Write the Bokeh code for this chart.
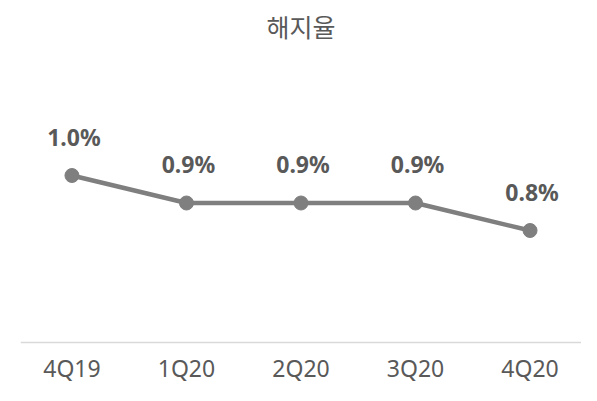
from bokeh.plotting import figure
from bokeh.models import ColumnDataSource, Range1d, FactorRange, Title
from bokeh.core.properties import value
from bokeh.embed import file_html
from bokeh.resources import INLINE

quarters = ["4Q19", "1Q20", "2Q20", "3Q20", "4Q20"]
churn = [1.0, 0.9, 0.9, 0.9, 0.8]
labels = ["1.0%", "0.9%", "0.9%", "0.9%", "0.8%"]
axis_base = 0.393

src = ColumnDataSource(dict(q=quarters, v=churn, lab=labels))

p = figure(width=581, height=385, output_backend="svg", toolbar_location=None,
           x_range=FactorRange(*quarters, range_padding=-0.0507, range_padding_units="absolute"),
           y_range=Range1d(0.2364, 1.4582),
           min_border_left=20, min_border_right=0, min_border_top=49, min_border_bottom=0)
p.title = Title(text="해지율", align="center", vertical_align="top", text_font="Noto Sans CJK KR",
                text_font_size="25px", text_font_style="normal", text_color="#595959",
                text_line_height=0.7, standoff=8)
p.outline_line_color = None
p.xgrid.visible = False
p.ygrid.visible = False
p.yaxis.visible = False
p.xaxis.fixed_location = axis_base
p.xaxis.axis_line_color = "#d9d9d9"
p.xaxis.axis_line_width = 1.5
p.xaxis.major_tick_line_color = None
p.xaxis.minor_tick_line_color = None
p.xaxis.major_tick_out = 0
p.xaxis.major_tick_in = 0
p.xaxis.major_label_text_font = "Noto Sans"
p.xaxis.major_label_text_font_size = "23px"
p.xaxis.major_label_text_color = "#595959"
p.xaxis.major_label_standoff = 10

p.line("q", "v", source=src, line_color="#7f7f7f", line_width=4.5)
p.scatter("q", "v", source=src, size=14, fill_color="#7f7f7f", line_color="#7f7f7f")
p.text("q", "v", text="lab", source=src, text_font=value("Noto Sans"), text_font_size="23px",
       text_font_style="bold", text_color="#595959", text_align="center",
       text_baseline="alphabetic", y_offset=-39, x_offset=2)

open("out.html", "w").write(file_html(p, INLINE))
